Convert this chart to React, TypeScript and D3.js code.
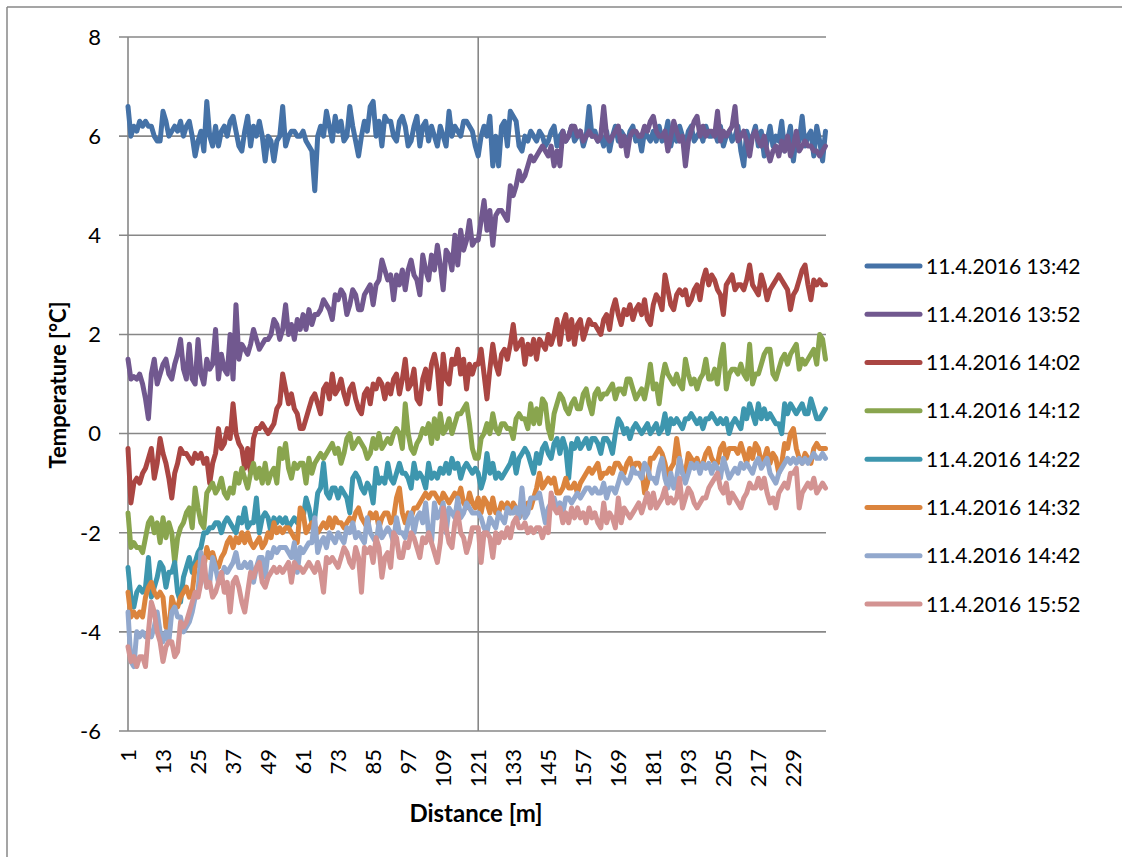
import React from "react";
import * as d3 from "d3";

const seriesNames = [
  "11.4.2016 13:42",
  "11.4.2016 13:52",
  "11.4.2016 14:02",
  "11.4.2016 14:12",
  "11.4.2016 14:22",
  "11.4.2016 14:32",
  "11.4.2016 14:42",
  "11.4.2016 15:52",
];

const seriesColors = ["#4572A7", "#71588F", "#AA4643", "#89A54E", "#3D96AE", "#DB843D", "#92A8CD", "#D39392"];

const yTicks = [8, 6, 4, 2, 0, -2, -4, -6];

const s1342 = [
  6.6, 6.0, 6.2, 6.1, 6.3, 6.2, 6.3, 6.2, 6.2, 6.0, 5.9, 5.9, 6.5, 6.3, 6.0, 6.1, 6.2, 6.1, 6.3, 6.0,
  6.2, 6.3, 6.0, 5.6, 5.9, 6.1, 5.7, 6.7, 6.0, 5.8, 6.2, 5.8, 6.1, 6.2, 6.0, 6.3, 6.4, 6.1, 5.8, 5.7,
  6.1, 6.4, 5.8, 6.2, 6.0, 6.3, 6.0, 5.5, 6.0, 5.9, 5.5, 5.9, 6.0, 6.6, 5.8, 6.0, 6.1, 6.1, 6.0, 6.0,
  6.1, 5.9, 5.8, 5.7, 4.9, 6.0, 6.2, 6.0, 6.5, 6.2, 5.9, 6.4, 6.1, 6.3, 5.9, 6.0, 6.6, 6.2, 5.9, 5.6,
  6.0, 6.3, 6.1, 6.6, 6.7, 6.0, 6.3, 5.8, 6.4, 6.3, 6.3, 6.0, 5.9, 6.3, 6.4, 6.2, 5.8, 5.9, 6.2, 6.4,
  5.8, 6.2, 6.3, 5.9, 6.2, 6.0, 5.8, 6.2, 6.0, 5.8, 6.5, 6.0, 6.2, 6.1, 6.0, 6.3, 6.3, 6.2, 6.1, 5.8,
  5.6, 6.0, 6.2, 6.0, 6.4, 5.4, 6.0, 5.4, 6.2, 6.3, 5.8, 6.5, 6.4, 6.3, 5.8, 5.7, 6.0, 5.9, 6.1, 6.0,
  5.9, 6.1, 6.0, 5.8, 5.9, 6.1, 6.2, 5.8, 6.0, 6.1, 5.9, 6.0, 6.2, 5.9, 6.0, 6.1, 5.8, 6.0, 6.6, 6.0,
  6.1, 5.9, 6.0, 5.8, 6.1, 5.7, 6.0, 6.2, 5.9, 6.1, 6.0, 5.8, 6.1, 6.2, 5.9, 6.0, 5.7, 6.1, 6.0, 5.9,
  6.1, 5.9, 6.2, 5.9, 6.0, 6.3, 5.8, 6.1, 5.9, 6.2, 6.0, 5.8, 6.1, 6.2, 5.9, 6.0, 6.1, 5.9, 6.2, 6.0,
  6.0, 6.1, 5.9, 6.2, 5.8, 6.0, 6.1, 5.9, 6.0, 6.2, 5.7, 5.4, 6.1, 5.9, 6.0, 6.2, 5.8, 6.1, 5.6, 5.9,
  6.2, 5.8, 6.0, 5.9, 6.3, 5.7, 5.9, 6.2, 5.5, 6.0, 5.9, 6.4, 5.8, 6.0, 6.1, 5.6, 6.2, 5.9, 5.5, 6.1,
];

const s1352 = [
  1.5, 1.1, 1.15, 1.1, 1.2, 1.0, 0.7, 0.3, 1.2, 1.5, 1.0, 1.2, 1.4, 1.5, 1.2, 1.1, 1.4, 1.6, 1.9, 1.3,
  1.1, 1.8, 1.1, 1.0, 1.9, 1.2, 1.0, 1.5, 1.3, 1.4, 2.1, 1.1, 1.6, 1.3, 1.2, 2.0, 1.1, 2.6, 1.5, 1.8,
  1.7, 1.6, 1.8, 2.1, 1.9, 1.7, 1.8, 1.9, 1.9, 2.0, 2.3, 2.2, 1.9, 2.1, 2.6, 2.0, 2.2, 1.9, 2.3, 2.1,
  2.4, 2.1, 2.5, 2.2, 2.4, 2.4, 2.5, 2.7, 2.6, 2.5, 2.3, 2.8, 2.7, 2.9, 2.8, 2.4, 2.6, 2.9, 2.8, 2.5,
  2.5, 2.8, 2.9, 3.0, 2.6, 3.0, 3.1, 3.5, 3.3, 3.1, 3.2, 2.7, 3.2, 3.0, 3.3, 2.9, 3.3, 3.5, 3.2, 3.1,
  2.8, 3.6, 3.3, 3.1, 3.6, 3.3, 3.8, 3.4, 2.9, 3.7, 3.6, 3.3, 4.0, 3.4, 4.1, 3.7, 3.9, 4.3, 3.8, 3.9,
  3.9, 4.3, 4.7, 4.1, 4.5, 3.8, 4.4, 4.5, 4.5, 4.4, 4.3, 5.0, 4.8, 5.0, 5.3, 5.1, 5.2, 5.4, 5.6, 5.5,
  5.6, 5.7, 5.8, 5.7, 5.6, 5.8, 5.4, 5.7, 5.4, 6.1, 5.9, 6.0, 6.2, 6.2, 6.0, 6.1, 5.9, 6.0, 6.1, 6.0,
  6.0, 5.9, 6.0, 6.6, 6.0, 5.9, 6.0, 6.1, 6.2, 5.8, 6.0, 5.6, 6.0, 6.1, 6.1, 6.0, 6.0, 6.2, 6.1, 6.3,
  6.4, 6.1, 6.0, 6.0, 6.1, 5.7, 6.0, 6.3, 6.1, 5.9, 6.0, 5.4, 5.9, 6.1, 6.3, 6.4, 6.0, 6.2, 6.0, 6.1,
  6.1, 6.0, 6.5, 5.9, 6.1, 6.0, 6.1, 6.2, 6.6, 5.9, 6.0, 6.1, 5.9, 5.6, 6.0, 6.1, 5.9, 5.8, 6.0, 5.7,
  5.5, 5.7, 5.8, 5.6, 5.9, 5.7, 6.0, 5.6, 5.8, 6.1, 5.7, 5.8, 5.9, 5.8, 5.8, 5.7, 5.7, 5.6, 5.7, 5.8,
];

const s1402 = [
  -0.3, -1.4, -1.0, -0.9, -1.0, -0.8, -0.7, -0.5, -0.3, -0.9, -0.6, -0.1, -0.4, -0.6, -0.9, -1.3, -0.8, -0.6, -0.3, -0.4,
  -0.4, -0.5, -0.6, -0.4, -0.5, -0.4, -0.6, -0.5, -1.0, -0.6, -0.4, 0.1, -0.3, -0.2, 0.1, -0.1, 0.6, 0.0, -0.2, -0.3,
  -0.7, -0.3, -0.8, -0.1, 0.1, 0.1, 0.2, 0.1, 0.0, 0.1, 0.2, 0.5, 0.6, 1.2, 0.9, 0.6, 0.8, 0.5, 0.4, 0.1,
  0.1, 0.3, 0.5, 0.7, 0.8, 0.6, 0.4, 0.9, 1.0, 0.7, 1.2, 0.8, 0.9, 1.1, 0.8, 0.6, 0.9, 1.0, 0.7, 0.5,
  0.4, 0.8, 0.9, 0.6, 1.0, 0.9, 1.1, 1.0, 0.7, 1.0, 0.8, 1.1, 1.2, 0.8, 1.1, 1.5, 0.9, 1.0, 1.3, 0.7,
  0.6, 1.1, 1.3, 0.9, 1.4, 1.6, 1.3, 0.6, 1.6, 1.1, 1.0, 1.5, 1.4, 1.7, 1.2, 1.5, 0.9, 1.4, 1.2, 1.4,
  1.4, 1.7, 1.2, 0.7, 1.3, 1.8, 1.4, 1.2, 1.6, 1.7, 1.5, 1.8, 2.2, 1.7, 1.8, 1.9, 1.4, 1.8, 1.6, 1.9,
  1.5, 1.9, 1.8, 1.7, 2.0, 1.8, 2.0, 2.3, 1.8, 2.2, 2.4, 1.9, 2.3, 1.8, 2.2, 2.3, 1.9, 2.1, 2.3, 2.2,
  2.2, 2.1, 2.0, 2.3, 2.4, 2.1, 2.5, 2.7, 2.4, 2.2, 2.5, 2.4, 2.6, 2.3, 2.5, 2.6, 2.4, 2.7, 2.3, 2.2,
  2.6, 2.8, 2.7, 2.5, 3.2, 2.9, 2.6, 2.5, 2.8, 2.9, 2.8, 2.9, 2.6, 2.7, 2.9, 3.0, 2.7, 3.1, 3.3, 3.0,
  3.2, 3.1, 2.9, 2.8, 2.4, 3.0, 3.1, 3.2, 2.9, 3.0, 3.0, 2.9, 3.1, 3.4, 3.0, 2.9, 2.8, 3.2, 3.0, 2.7,
  2.9, 3.0, 3.1, 3.2, 3.1, 3.0, 2.9, 2.5, 2.8, 2.9, 3.1, 3.3, 3.4, 3.0, 2.7, 3.1, 3.0, 3.1, 3.0, 3.0,
];

const s1412 = [
  -1.6, -2.3, -2.2, -2.3, -2.3, -2.4, -2.1, -1.8, -1.7, -2.0, -1.8, -2.2, -1.7, -2.1, -1.8, -2.0, -2.6, -2.1, -1.9, -1.8,
  -1.6, -1.5, -1.9, -1.1, -1.5, -1.8, -1.9, -1.2, -1.1, -1.0, -1.2, -1.1, -0.9, -1.2, -1.3, -1.1, -1.2, -0.8, -1.0, -0.7,
  -0.9, -1.1, -0.8, -0.6, -0.9, -0.7, -1.0, -0.6, -1.0, -0.8, -0.7, -1.0, -0.3, -0.5, -0.2, -0.7, -0.9, -0.6, -0.7, -0.6,
  -0.6, -1.0, -0.5, -0.8, -0.6, -0.5, -0.4, -0.5, -0.4, -0.3, -0.2, -0.4, -0.3, -0.6, -0.4, -0.1, 0.0, -0.3, -0.2, -0.1,
  -0.2, -0.3, -0.5, -0.4, -0.1, -0.3, 0.0, -0.3, -0.2, -0.1, -0.2, 0.0, 0.1, 0.0, -0.3, 0.6, 0.0, -0.3, -0.4, -0.2,
  -0.1, 0.1, 0.0, 0.2, -0.2, 0.3, -0.1, 0.4, 0.0, 0.1, 0.3, 0.0, 0.2, 0.4, 0.4, 0.5, 0.6, 0.2, -0.3, -0.5,
  -0.5, -0.1, 0.0, 0.2, 0.0, 0.4, 0.1, 0.0, 0.2, 0.2, 0.1, 0.1, -0.1, 0.3, 0.4, 0.3, 0.3, 0.1, 0.6, 0.2,
  0.5, 0.2, 0.7, 0.6, 0.1, -0.1, 0.4, 0.6, 0.8, 0.7, 0.5, 0.4, 0.6, 0.7, 0.5, 0.5, 0.8, 0.9, 0.6, 0.4,
  0.8, 0.9, 0.7, 0.8, 0.8, 0.9, 1.0, 0.7, 0.9, 0.9, 0.8, 1.1, 1.1, 0.9, 0.7, 0.8, 0.9, 0.7, 1.0, 1.4,
  0.9, 1.0, 0.6, 1.1, 1.4, 1.2, 1.1, 1.0, 1.2, 1.0, 0.9, 1.5, 1.2, 1.0, 1.1, 0.9, 1.1, 1.2, 1.5, 1.1,
  1.1, 1.3, 1.0, 1.5, 1.8, 0.9, 1.2, 1.3, 1.3, 1.2, 1.4, 1.2, 1.1, 1.8, 1.0, 1.2, 1.2, 1.4, 1.6, 1.7,
  1.7, 1.2, 1.1, 1.3, 1.5, 1.6, 1.4, 1.6, 1.7, 1.8, 1.3, 1.5, 1.4, 1.5, 1.6, 1.7, 1.4, 2.0, 1.9, 1.5,
];

const s1422 = [
  -2.7, -3.3, -3.5, -3.2, -3.1, -3.2, -3.1, -2.5, -3.3, -3.1, -2.9, -2.6, -2.7, -3.1, -2.8, -2.8, -2.6, -3.2, -3.4, -2.9,
  -2.7, -2.5, -2.8, -2.6, -2.4, -2.3, -2.0, -2.0, -1.9, -1.9, -1.8, -1.8, -2.0, -1.8, -1.7, -1.8, -1.9, -2.0, -1.7, -1.8,
  -1.5, -1.9, -1.8, -1.8, -1.3, -2.0, -1.7, -1.6, -1.7, -2.0, -1.7, -1.8, -1.7, -1.8, -1.7, -1.9, -1.8, -1.7, -1.8, -1.7,
  -1.7, -1.3, -1.5, -1.8, -1.7, -1.2, -1.1, -0.6, -1.2, -1.3, -1.1, -1.1, -1.3, -1.1, -1.2, -1.3, -1.6, -0.9, -0.8, -0.9,
  -1.1, -1.2, -1.0, -1.1, -1.4, -0.7, -1.0, -0.9, -1.0, -0.6, -0.9, -1.0, -0.8, -0.6, -0.8, -0.8, -0.9, -1.1, -0.6, -0.9,
  -0.8, -0.9, -1.1, -0.6, -0.9, -0.8, -0.9, -0.7, -0.8, -0.6, -0.8, -0.5, -0.7, -0.6, -0.9, -0.7, -0.6, -0.7, -0.8, -0.7,
  -0.8, -1.1, -0.9, -0.4, -0.8, -0.6, -0.9, -0.8, -0.9, -0.8, -0.7, -0.6, -0.4, -0.8, -0.5, -0.4, -0.3, -0.4, -0.6, -0.8,
  -0.4, -0.6, -0.3, -0.2, -0.4, -0.5, -0.2, -0.1, -0.4, -0.1, -0.3, -0.9, -0.2, -0.3, -0.1, -0.3, -0.2, -0.1, -0.3, -0.1,
  -0.1, -0.2, -0.4, -0.1, -0.1, -0.2, -0.4, 0.0, 0.3, 0.2, 0.0, 0.1, -0.1, 0.1, 0.2, 0.1, 0.0, 0.1, 0.2, 0.0,
  0.1, 0.2, 0.0, 0.1, 0.4, 0.0, 0.3, 0.2, 0.3, 0.2, 0.1, 0.3, 0.3, 0.4, 0.3, 0.2, 0.3, 0.1, 0.3, 0.3,
  0.4, 0.3, 0.2, 0.3, 0.2, 0.3, 0.0, 0.2, 0.3, 0.2, 0.1, 0.5, 0.3, 0.6, 0.4, 0.2, 0.6, 0.3, 0.5, 0.3,
  0.4, 0.3, 0.2, 0.2, 0.0, 0.6, 0.4, 0.6, 0.5, 0.4, 0.5, 0.6, 0.4, 0.4, 0.7, 0.5, 0.3, 0.3, 0.4, 0.5,
];

const s1432 = [
  -3.2, -3.7, -3.6, -3.7, -3.6, -3.7, -3.3, -3.1, -3.0, -3.2, -3.3, -3.2, -3.3, -3.9, -4.0, -3.3, -3.5, -3.5, -3.3, -3.2,
  -3.1, -3.3, -3.2, -2.7, -2.6, -2.7, -2.7, -2.3, -2.5, -2.4, -2.6, -2.7, -2.5, -2.4, -2.2, -2.1, -2.3, -2.1, -2.2, -2.0,
  -2.2, -2.0, -2.2, -2.3, -2.2, -2.1, -2.3, -2.2, -2.0, -2.1, -1.8, -2.0, -1.9, -2.0, -1.9, -1.9, -2.0, -2.1, -2.2, -1.5,
  -1.6, -2.0, -1.9, -1.8, -1.9, -2.0, -1.9, -1.8, -1.9, -1.7, -1.9, -1.7, -1.8, -1.8, -1.9, -1.8, -1.7, -1.8, -1.6, -1.5,
  -1.7, -1.8, -1.9, -1.6, -1.7, -1.6, -1.9, -1.7, -1.6, -1.6, -1.8, -1.7, -1.3, -1.1, -1.6, -1.8, -1.6, -1.7, -1.5, -1.5,
  -1.4, -1.3, -1.2, -1.3, -1.2, -1.2, -1.3, -1.4, -1.2, -1.3, -1.4, -1.3, -1.2, -1.3, -1.1, -1.4, -1.5, -1.2, -1.4, -1.5,
  -1.3, -1.6, -1.3, -1.4, -1.6, -1.3, -1.6, -1.6, -1.4, -1.5, -1.4, -1.6, -1.4, -1.5, -1.7, -1.6, -1.6, -1.4, -1.5, -1.3,
  -1.1, -0.8, -1.1, -1.0, -0.9, -1.0, -0.9, -1.2, -1.2, -1.1, -0.9, -1.1, -1.1, -1.0, -1.2, -1.0, -0.9, -0.8, -0.7, -0.8,
  -0.7, -0.6, -0.9, -0.8, -0.8, -0.7, -0.8, -0.6, -0.6, -0.7, -0.8, -0.6, -0.5, -0.7, -0.6, -0.6, -0.7, -1.2, -1.0, -0.5,
  -0.5, -0.4, -0.3, -0.4, -0.6, -0.9, -0.7, -0.6, -0.1, -0.5, -0.8, -0.8, -0.4, -0.5, -0.6, -0.5, -0.7, -0.6, -0.4, -0.3,
  -0.5, -0.6, -0.6, -0.3, -0.2, -0.5, -0.3, -0.3, -0.3, -0.4, -0.2, -0.4, -0.6, -0.3, -0.5, -0.2, -0.3, -0.6, -0.5, -0.3,
  -0.6, -0.4, -0.5, -0.8, -0.6, -0.2, -0.3, 0.0, 0.1, -0.3, -0.5, -0.6, -0.4, -0.5, -0.6, -0.3, -0.2, -0.3, -0.3, -0.3,
];

const s1442 = [
  -3.6, -4.6, -4.7, -4.0, -4.1, -4.0, -4.1, -4.0, -4.1, -3.9, -3.6, -4.0, -4.2, -4.0, -4.2, -3.6, -3.5, -3.7, -3.7, -4.0,
  -3.9, -3.8, -3.6, -3.3, -3.2, -2.4, -2.8, -3.1, -3.0, -2.5, -2.7, -3.0, -2.9, -2.7, -2.8, -2.7, -2.6, -2.4, -2.7, -2.7,
  -2.6, -2.7, -2.6, -3.0, -2.7, -2.5, -2.5, -2.9, -2.4, -2.5, -2.3, -2.4, -2.3, -2.3, -2.3, -2.4, -2.5, -2.2, -2.8, -2.3,
  -2.4, -2.3, -2.2, -2.2, -1.7, -2.4, -2.2, -2.1, -2.3, -2.0, -2.1, -2.2, -2.0, -2.1, -2.2, -1.9, -2.0, -1.8, -2.1, -2.0,
  -2.1, -2.2, -1.7, -2.0, -2.1, -2.2, -1.8, -2.1, -2.0, -1.9, -2.0, -2.2, -1.7, -2.0, -2.0, -2.1, -1.8, -1.6, -2.0, -1.7,
  -1.6, -1.8, -1.4, -2.0, -2.2, -1.4, -1.7, -1.6, -1.4, -2.0, -1.5, -1.6, -1.7, -1.3, -1.7, -1.6, -1.4, -1.5, -1.6, -1.6,
  -1.6, -1.7, -1.9, -2.0, -1.7, -1.8, -1.9, -1.6, -1.7, -1.8, -1.5, -1.6, -1.6, -1.5, -1.7, -1.1, -1.7, -1.6, -1.3, -1.3,
  -1.3, -1.2, -1.5, -1.8, -1.5, -1.4, -1.3, -1.5, -1.4, -1.6, -1.3, -1.3, -1.4, -1.3, -1.2, -1.3, -1.2, -1.1, -1.1, -1.2,
  -1.1, -1.2, -1.2, -1.0, -1.3, -1.1, -1.1, -1.2, -1.0, -0.8, -0.9, -1.0, -0.9, -0.7, -0.8, -0.8, -0.9, -0.6, -0.7, -0.9,
  -0.9, -1.0, -0.7, -0.5, -0.9, -1.1, -0.8, -1.1, -0.9, -0.5, -0.8, -1.0, -0.8, -0.6, -0.7, -0.6, -0.8, -0.6, -0.7, -0.6,
  -0.8, -0.6, -0.7, -0.9, -0.5, -0.7, -0.9, -0.8, -0.7, -0.8, -0.6, -0.7, -0.6, -0.7, -0.8, -0.6, -0.5, -0.7, -0.6, -0.5,
  -0.8, -0.9, -1.0, -0.8, -0.7, -0.6, -0.5, -0.6, -0.5, -0.6, -0.5, -0.6, -0.5, -0.6, -0.5, -0.4, -0.5, -0.5, -0.4, -0.5,
];

const s1552 = [
  -4.3, -4.6, -4.5, -4.7, -4.5, -4.5, -4.7, -4.0, -3.4, -3.6, -4.0, -4.2, -4.6, -4.3, -4.2, -4.2, -4.5, -4.4, -3.8, -3.9,
  -3.8, -3.6, -3.4, -3.2, -3.3, -3.0, -2.5, -3.1, -3.0, -3.3, -3.2, -3.0, -2.8, -3.2, -3.0, -3.6, -3.0, -2.9, -3.1, -3.4,
  -3.6, -3.2, -2.8, -2.9, -2.7, -2.6, -3.0, -3.1, -2.9, -2.8, -2.7, -2.8, -2.7, -2.8, -2.7, -2.6, -3.0, -2.6, -2.7, -2.7,
  -2.8, -2.7, -2.6, -2.7, -2.8, -2.6, -2.8, -3.2, -2.5, -2.6, -2.5, -2.6, -2.7, -2.5, -2.3, -2.4, -2.6, -2.7, -2.3, -2.5,
  -3.2, -2.3, -2.4, -2.3, -2.6, -2.1, -2.3, -2.9, -2.5, -2.4, -2.7, -2.0, -2.1, -2.5, -2.5, -2.2, -2.3, -2.0, -2.1, -2.3,
  -2.5, -2.1, -2.2, -2.0, -2.2, -2.4, -2.6, -2.2, -1.5, -1.9, -2.2, -2.3, -1.8, -1.6, -2.0, -2.1, -2.4, -2.2, -1.9, -1.9,
  -1.9, -2.6, -2.0, -2.0, -2.1, -2.5, -2.0, -2.2, -2.0, -2.1, -1.9, -2.1, -1.8, -1.7, -1.9, -1.9, -1.8, -2.0, -1.9, -2.0,
  -1.9, -1.9, -2.1, -1.9, -2.0, -1.2, -1.5, -1.6, -1.5, -1.8, -1.6, -1.8, -1.5, -1.7, -1.5, -1.7, -1.6, -1.8, -1.5, -1.7,
  -1.6, -1.8, -1.9, -1.4, -1.8, -1.6, -1.7, -1.9, -1.3, -1.8, -1.5, -1.6, -1.7, -1.6, -1.5, -1.4, -1.6, -1.4, -1.2, -1.5,
  -1.2, -1.5, -1.4, -1.3, -1.1, -1.4, -1.3, -1.4, -1.3, -0.9, -1.5, -1.3, -1.1, -1.2, -1.4, -1.5, -1.4, -1.3, -1.3, -1.1,
  -1.0, -0.9, -0.8, -1.1, -1.2, -1.0, -1.4, -1.2, -1.3, -1.4, -1.5, -1.3, -1.2, -1.0, -1.1, -1.1, -0.9, -1.1, -0.9, -1.2,
  -1.4, -1.3, -1.5, -1.2, -1.1, -1.0, -1.1, -0.8, -0.8, -0.7, -1.5, -1.2, -1.1, -1.0, -1.1, -0.9, -1.2, -1.1, -1.0, -1.1,
];

const allSeries = [s1342, s1352, s1402, s1412, s1422, s1432, s1442, s1552];

const categories = s1342.map((_, i) => i + 1);
const xTickLabels = categories.filter((c) => (c - 1) % 12 === 0);
const dividerCategory = 121;

const W = 1122;
const H = 857;
const plot = { left: 128, right: 826, top: 37, bottom: 731 };
const FONT = "Lato, 'Open Sans', sans-serif";
const GRID = "#878787";

export default function App() {
  const x = d3
    .scaleLinear()
    .domain([1, categories.length])
    .range([plot.left, plot.right - 0.5]);
  const y = d3.scaleLinear().domain([-6, 8]).range([plot.bottom, plot.top]);

  const line = d3
    .line<number>()
    .x((_, i) => x(categories[i]))
    .y((d) => y(d));

  const legendY = d3.scaleLinear().domain([0, 7]).range([266, 604]);

  return (
    <svg
      width={W}
      height={H}
      style={{ position: "absolute", left: 0, top: 0, background: "#fff" }}
      fontFamily={FONT}
    >
      <rect x={0} y={0} width={W} height={H} fill="#fff" />
      {/* chart area border */}
      <line x1={7} y1={7} x2={W} y2={7} stroke={GRID} strokeWidth={1.5} />
      <line x1={7} y1={7} x2={7} y2={H} stroke={GRID} strokeWidth={1.5} />

      {/* horizontal gridlines + tick marks */}
      {yTicks.map((t) => (
        <line key={t} x1={plot.left - 9} x2={plot.right} y1={y(t)} y2={y(t)} stroke={GRID} strokeWidth={1.6} />
      ))}
      {/* y axis */}
      <line x1={plot.left} x2={plot.left} y1={plot.top} y2={plot.bottom} stroke={GRID} strokeWidth={1.6} />
      {/* divider at 121 */}
      <line
        x1={x(dividerCategory)}
        x2={x(dividerCategory)}
        y1={plot.top}
        y2={plot.bottom}
        stroke={GRID}
        strokeWidth={1.6}
      />

      {/* y tick labels */}
      {yTicks.map((t) => (
        <text key={t} x={101} y={y(t)} dy="0.36em" textAnchor="end" fontSize={22} fill="#000">
          {t}
        </text>
      ))}

      {/* x tick labels */}
      {xTickLabels.map((c) => (
        <text
          key={c}
          transform={`translate(${x(c)},${749}) rotate(-90)`}
          dy="0.36em"
          textAnchor="end"
          fontSize={22}
          fill="#000"
        >
          {c}
        </text>
      ))}

      {/* series */}
      {allSeries.map((s, k) => (
        <path
          key={k}
          d={line(s) || ""}
          fill="none"
          stroke={seriesColors[k]}
          strokeWidth={5}
          strokeLinejoin="round"
          strokeLinecap="round"
        />
      ))}

      {/* axis titles */}
      <text
        transform={`translate(58,385) rotate(-90)`}
        dy="0.36em"
        textAnchor="middle"
        fontSize={22}
        fontWeight="bold"
        fill="#000"
      >
        Temperature [°C]
      </text>
      <text x={476} y={813} dy="0.36em" textAnchor="middle" fontSize={24} fontWeight="bold" fill="#000">
        Distance [m]
      </text>

      {/* legend */}
      {seriesNames.map((n, k) => (
        <g key={n}>
          <line
            x1={867}
            x2={920}
            y1={legendY(k)}
            y2={legendY(k)}
            stroke={seriesColors[k]}
            strokeWidth={5}
            strokeLinecap="round"
          />
          <text x={926} y={legendY(k)} dy="0.36em" fontSize={21} fill="#000">
            {n}
          </text>
        </g>
      ))}
    </svg>
  );
}
